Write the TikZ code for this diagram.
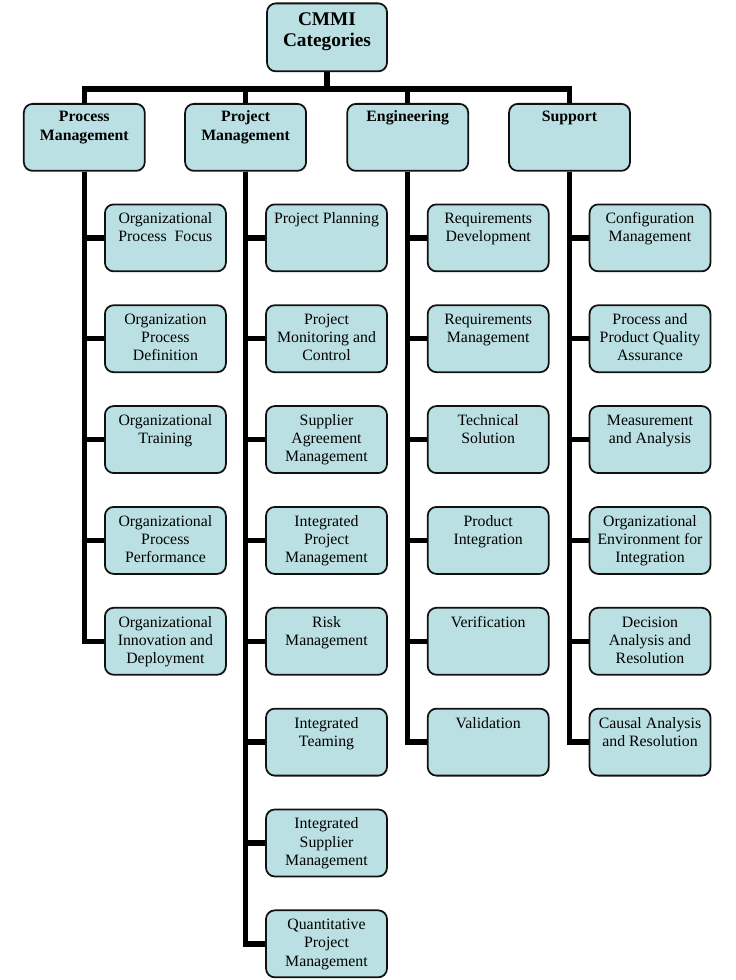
\documentclass[tikz,border=0pt]{standalone}
\usepackage{fontspec}
\setmainfont{Liberation Serif}
\usepackage{xcolor}
\usetikzlibrary{positioning}
\definecolor{boxfill}{HTML}{BBE0E3}
\definecolor{ink}{HTML}{111111}
\newcommand{\boxlines}[1]{\begin{tabular}[t]{@{}c@{}}#1\end{tabular}}
\tikzset{
  rootbox/.style={draw=ink,fill=boxfill,line width=1pt,rounded corners=5pt,
                  minimum width=2.4cm,inner xsep=1pt,inner ysep=0pt,
                  anchor=north,text height=0.44cm,text depth=0.92cm,
                  font=\fontsize{11}{12.2}\selectfont\bfseries},
  catbox/.style={draw=ink,fill=boxfill,line width=1pt,rounded corners=5pt,
                 minimum width=2.42cm,inner xsep=1pt,inner ysep=0pt,
                 anchor=north,text height=0.36cm,text depth=0.98cm,
                 font=\fontsize{9}{10.8}\selectfont\bfseries},
  kidbox/.style={draw=ink,fill=boxfill,line width=1pt,rounded corners=5pt,
                 minimum width=2.42cm,inner xsep=1pt,inner ysep=0pt,
                 anchor=north,text height=0.39cm,text depth=0.95cm,
                 font=\fontsize{9}{10.3}\selectfont},
  trunk/.style={draw=black,line width=3.1pt,line join=miter}
}
\begin{document}
\begin{tikzpicture}[x=0.02cm,y=-0.02cm]
  \useasboundingbox[fill=white] (0,0) rectangle (735,980);
  % root and the four categories
  \node[rootbox] (cmmi) at (327,2.5) {\boxlines{CMMI\\Categories}};
  \node[catbox] (procmgmt) at (84.3,103) {\boxlines{Process\\Management}};
  \node[catbox] (projmgmt) at (245.6,103) {\boxlines{Project\\Management}};
  \node[catbox] (eng) at (407.7,103) {Engineering};
  \node[catbox] (supp) at (569.5,103) {Support};
  \coordinate (hub) at (327,89);
  \draw[trunk] (cmmi) -- (hub);
  \foreach \c in {procmgmt,projmgmt,eng,supp}
    \draw[trunk] (\c.north) |- (hub);
  % process management areas
  \foreach \t [count=\i from 0] in {{Organizational\\Process~~Focus},
      {Organization\\Process\\Definition},{Organizational\\Training},
      {Organizational\\Process\\Performance},{Organizational\\Innovation and\\Deployment}}{
    \node[kidbox] (pa\i) at (165.4,{203.5+\i*100.85}) {\boxlines{\t}};
    \draw[trunk] (procmgmt.south) |- (pa\i.west);
  }
  % project management areas
  \foreach \t [count=\i from 0] in {{Project Planning},
      {Project\\Monitoring and\\Control},{Supplier\\Agreement\\Management},
      {Integrated\\Project\\Management},{Risk\\Management},{Integrated\\Teaming},
      {Integrated\\Supplier\\Management},{Quantitative\\Project\\Management}}{
    \node[kidbox] (pj\i) at (326.5,{203.5+\i*100.85}) {\boxlines{\t}};
    \draw[trunk] (projmgmt.south) |- (pj\i.west);
  }
  % engineering areas
  \foreach \t [count=\i from 0] in {{Requirements\\Development},
      {Requirements\\Management},{Technical\\Solution},{Product\\Integration},
      {Verification},{Validation}}{
    \node[kidbox] (en\i) at (488.2,{203.5+\i*100.85}) {\boxlines{\t}};
    \draw[trunk] (eng.south) |- (en\i.west);
  }
  % support areas
  \foreach \t [count=\i from 0] in {{Configuration\\Management},
      {Process and\\Product Quality\\Assurance},{Measurement\\and Analysis},
      {Organizational\\Environment for\\Integration},{Decision\\Analysis and\\Resolution},
      {Causal Analysis\\and Resolution}}{
    \node[kidbox] (sp\i) at (650,{203.5+\i*100.85}) {\boxlines{\t}};
    \draw[trunk] (supp.south) |- (sp\i.west);
  }
\end{tikzpicture}
\end{document}
